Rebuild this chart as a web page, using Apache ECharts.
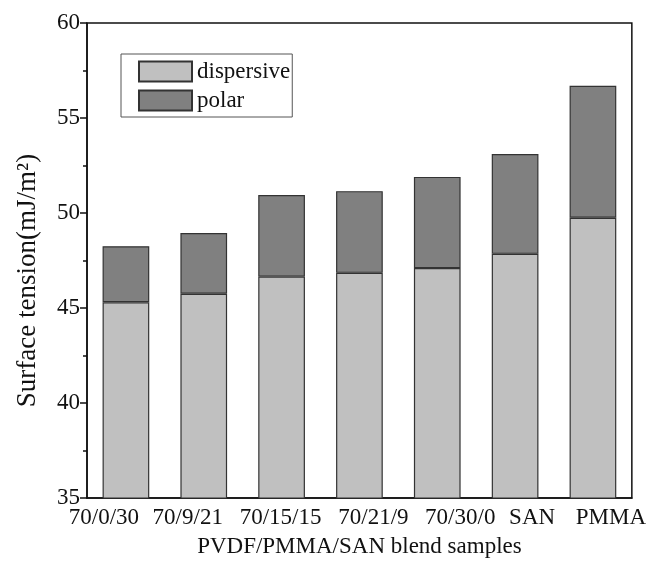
<!DOCTYPE html>
<html>
<head>
<meta charset="utf-8">
<script src="https://cdn.jsdelivr.net/npm/echarts@6/dist/echarts.min.js"></script>
<style>
  html, body { margin: 0; padding: 0; background: #fff; }
  #chart { width: 649px; height: 563px; }
</style>
</head>
<body>
<div id="chart"></div>
<script>
// 样品（横轴类别）
const samples = ['70/0/30', '70/9/21', '70/15/15', '70/21/9', '70/30/0', 'SAN', 'PMMA']
// 色散分量
const dispersive = [45.3, 45.75, 46.65, 46.85, 47.1, 47.85, 49.75]
// 极性分量（叠加在色散分量上）
const polar = [2.95, 3.2, 4.3, 4.3, 4.8, 5.25, 6.95]
// 纵轴刻度
const yMin = 35, yMax = 60, yStep = 5

// 原图横轴标签是手动摆放的，相对刻度有偏移（像素）
const labelShift = [-22, -16, -1, 14, 23, 17, 18]

const font = 'Liberation Serif'
const chart = echarts.init(document.getElementById('chart'))

// 每个标签一个 rich 样式，用 padding 做左右偏移
const labelRich = {}
labelShift.forEach((s, i) => {
    labelRich['s' + i] = {
        fontFamily: font, fontSize: 23, color: '#111',
        padding: s >= 0 ? [0, 0, 0, 2 * s] : [0, -2 * s, 0, 0]
    }
})

const option = {
    backgroundColor: '#fff',
    animation: false,
    textStyle: { fontFamily: font, color: '#111' },
    grid: {
        left: 87, right: 16, top: 23, bottom: 62,
        show: true, borderColor: '#111', borderWidth: 1.5
    },
    legend: {
        data: ['dispersive', 'polar'],
        orient: 'vertical',
        left: 121, top: 54,
        icon: 'rect',
        itemWidth: 53, itemHeight: 20, itemGap: 6,
        padding: [6, 2, 5, 17],
        borderColor: '#555', borderWidth: 1,
        textStyle: { fontFamily: font, fontSize: 23, color: '#111' }
    },
    xAxis: [{
        type: 'category',
        data: samples,
        name: 'PVDF/PMMA/SAN blend samples',
        nameLocation: 'middle',
        nameGap: 37,
        nameTextStyle: { fontFamily: font, fontSize: 23, color: '#111' },
        axisLine: { lineStyle: { color: '#111', width: 1.5 } },
        axisTick: { alignWithLabel: true, length: 7, lineStyle: { color: '#111', width: 1.5 } },
        axisLabel: {
            margin: 8, interval: 0,
            formatter: (v, i) => '{s' + i + '|' + v + '}',
            rich: labelRich
        }
    }, {
        // 类别边界处的短刻度
        type: 'category',
        data: samples,
        position: 'bottom',
        axisLine: { show: false },
        axisTick: { length: 4, lineStyle: { color: '#111', width: 1.5 } },
        axisLabel: { show: false }
    }],
    yAxis: {
        type: 'value',
        min: yMin, max: yMax, interval: yStep,
        name: 'Surface tension(mJ/m²)',
        nameLocation: 'middle',
        nameGap: 46,
        nameTextStyle: { fontFamily: font, fontSize: 27, color: '#111', padding: [0, 40, 0, 0] },
        axisLine: { show: true, lineStyle: { color: '#111', width: 1.5 } },
        axisTick: { show: true, length: 7, lineStyle: { color: '#111', width: 1.5 } },
        minorTick: { show: true, splitNumber: 2, length: 4, lineStyle: { color: '#111', width: 1.5 } },
        axisLabel: { fontFamily: font, fontSize: 23, color: '#111', margin: 7 },
        splitLine: { show: false }
    },
    series: [{
        name: 'dispersive',
        type: 'bar',
        stack: 'total',
        barWidth: '60%',
        data: dispersive,
        itemStyle: { color: '#c0c0c0', borderColor: '#333', borderWidth: 1.2 }
    }, {
        name: 'polar',
        type: 'bar',
        stack: 'total',
        barWidth: '60%',
        data: polar,
        itemStyle: { color: '#808080', borderColor: '#333', borderWidth: 1.2 }
    }]
}

chart.setOption(option)
</script>
</body>
</html>
